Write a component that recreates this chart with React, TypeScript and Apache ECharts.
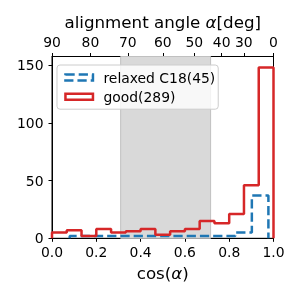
import React, { useEffect, useRef } from "react";
import * as echarts from "echarts";

// Histogram "good" (red): range and counts per bin
const redRange = [0, 1];
const redCounts = [5, 7, 2, 8, 5, 6, 8, 3, 6, 8, 15, 13, 21, 46, 148];
// Histogram "relaxed C18" (blue, dashed)
const blueRange = [0.08, 0.977];
const blueCounts = [2, 2, 2, 2, 2, 2, 2, 2, 2, 2, 5, 37];
const seriesNames = ["relaxed C18(45)", "good(289)"];
const yTicks = [0, 50, 100, 150];
const topAngleTicks = [90, 80, 70, 60, 50, 40, 30, 0];
const shadedSpan = [0.31, 0.716];

const FONT = "DejaVu Sans";
const FS = 13.9;
const NFS = 16.7;
const BLUE = "#1f77b4";
const RED = "#d62728";

function stepPoints(range: number[], counts: number[]) {
  const n = counts.length;
  const w = (range[1] - range[0]) / n;
  const pts: number[][] = [[range[0], 0]];
  counts.forEach((c, i) => {
    pts.push([range[0] + i * w, c]);
    pts.push([range[0] + (i + 1) * w, c]);
  });
  pts.push([range[1], 0]);
  return pts;
}

export default function App() {
  const ref = useRef<HTMLDivElement>(null);
  useEffect(() => {
    if (!ref.current) return;
    const chart = echarts.init(ref.current, null, { renderer: "svg" });
    const axisText = { fontFamily: FONT, fontSize: FS, color: "#000" };
    const nameText = {
      fontFamily: FONT,
      fontSize: NFS,
      color: "#000",
      rich: { a: { fontFamily: FONT, fontSize: NFS, fontStyle: "italic", color: "#000" } },
    };
    chart.setOption({
      animation: false,
      textStyle: { fontFamily: FONT },
      grid: {
        left: 52,
        right: 26.5,
        top: 56.5,
        bottom: 61.7,
        show: true,
        borderColor: "#000",
        borderWidth: 1,
        backgroundColor: "transparent",
        outerBoundsMode: "none",
      },
      legend: {
        orient: "vertical",
        left: 57,
        top: 65,
        padding: [5.5, 3, 5.5, 7.2],
        itemWidth: 27.5,
        itemHeight: 6,
        itemGap: 5.2,
        backgroundColor: "rgba(255,255,255,0.8)",
        borderColor: "#cccccc",
        borderWidth: 1,
        borderRadius: 3,
        z: 10,
        textStyle: { ...axisText, lineHeight: 14, padding: [0, 0, 0, 5.5] },
        data: [
          {
            name: seriesNames[0],
            icon: "rect",
            itemStyle: { color: "transparent", borderColor: BLUE, borderWidth: 2.5, borderType: [9.25, 4] },
          },
          {
            name: seriesNames[1],
            icon: "rect",
            itemStyle: { color: "transparent", borderColor: RED, borderWidth: 2.5, borderType: "solid" },
          },
        ],
      },
      xAxis: [
        {
          type: "value",
          position: "bottom",
          min: 0,
          max: 1,
          interval: 0.2,
          name: "cos({a|\u03b1})",
          nameLocation: "middle",
          nameGap: 24,
          nameTextStyle: nameText,
          axisLine: { show: true, lineStyle: { color: "#000", width: 1 } },
          axisTick: { show: true, length: 3.5, lineStyle: { color: "#000" } },
          axisLabel: { ...axisText, margin: 7, formatter: (v: number) => v.toFixed(1) },
          splitLine: { show: false },
        },
        {
          type: "value",
          position: "top",
          min: 0,
          max: 1,
          name: "alignment angle {a|\u03b1}[deg]",
          nameLocation: "middle",
          nameGap: 25.5,
          nameTextStyle: nameText,
          axisLine: { show: true, lineStyle: { color: "#000", width: 1 } },
          axisTick: {
            show: true,
            length: 3.5,
            lineStyle: { color: "#000" },
            customValues: topAngleTicks.map((a) => Math.cos((a * Math.PI) / 180)),
          },
          axisLabel: {
            ...axisText,
            margin: 7.5,
            customValues: topAngleTicks.map((a) => Math.cos((a * Math.PI) / 180)),
            formatter: (v: number) => String(Math.round((Math.acos(Math.min(1, v)) * 180) / Math.PI)),
          },
          splitLine: { show: false },
        },
      ],
      yAxis: {
        type: "value",
        min: 0,
        max: 157.5,
        interval: 50,
        axisLine: { show: true, lineStyle: { color: "#000", width: 1 } },
        axisTick: { show: true, length: 3.5, lineStyle: { color: "#000" }, customValues: yTicks },
        axisLabel: { ...axisText, margin: 8.5, customValues: yTicks, formatter: (v: number) => String(v) },
        splitLine: { show: false },
      },
      series: [
        {
          type: "line",
          name: "span",
          data: [],
          z: 1,
          silent: true,
          markArea: {
            silent: true,
            itemStyle: { color: "#d9d9d9", borderColor: "#c0c0c0", borderWidth: 1 },
            data: [[{ xAxis: shadedSpan[0] }, { xAxis: shadedSpan[1] }]],
          },
        },
        {
          type: "line",
          name: seriesNames[0],
          data: stepPoints(blueRange, blueCounts),
          symbol: "none",
          z: 3,
          lineStyle: { color: BLUE, width: 2.5, type: [9.25, 4] },
          itemStyle: { color: BLUE },
        },
        {
          type: "line",
          name: seriesNames[1],
          data: stepPoints(redRange, redCounts),
          symbol: "none",
          z: 4,
          lineStyle: { color: RED, width: 2.5 },
          itemStyle: { color: RED },
        },
      ],
    });
    return () => chart.dispose();
  }, []);
  return <div ref={ref} style={{ position: "fixed", left: 0, top: 0, width: 300, height: 300 }} />;
}
